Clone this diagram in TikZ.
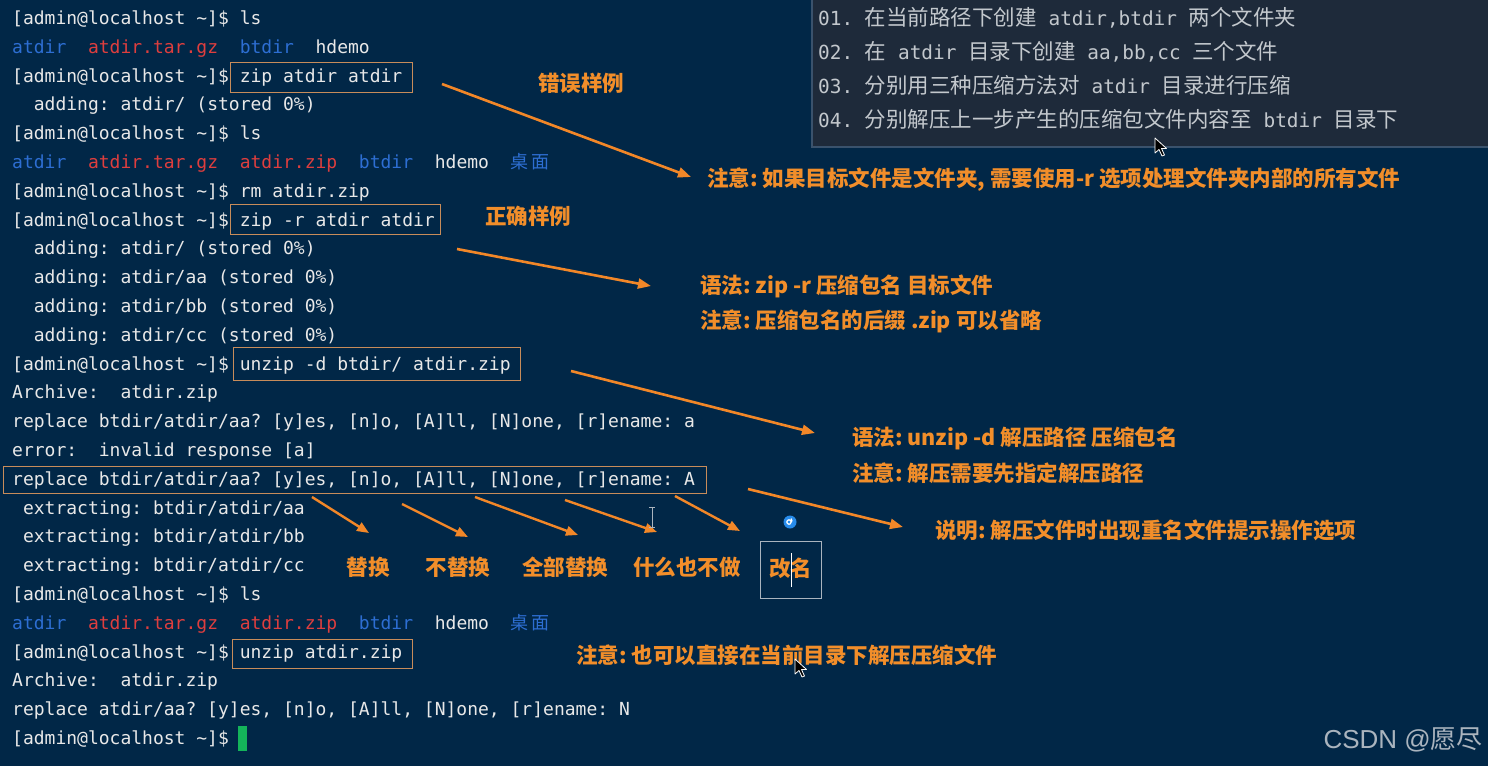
\documentclass[tikz,border=0pt]{standalone}
\usepackage{fontspec}
\usetikzlibrary{arrows.meta}
\newfontfamily\tmonofam{DejaVu Sans Mono}
\newfontfamily\cjkfam{Noto Sans CJK SC}
\newfontfamily\wmlatin{Liberation Sans}
\definecolor{bg}{RGB}{1,39,71}
\definecolor{termwhite}{RGB}{232,232,232}
\definecolor{tblue}{RGB}{45,110,210}
\definecolor{tred}{RGB}{222,62,62}
\definecolor{noteorange}{RGB}{242,142,42}
\definecolor{arrcol}{RGB}{242,135,40}
\definecolor{boxcol}{RGB}{200,140,90}
\definecolor{panelbg}{RGB}{30,42,58}
\definecolor{panelrim}{RGB}{58,82,108}
\definecolor{paneltext}{RGB}{195,200,205}
\definecolor{cursorgreen}{RGB}{20,180,90}
\definecolor{wmark}{RGB}{170,180,190}
\definecolor{spiral}{RGB}{40,140,235}
\frenchspacing
\newcommand\tfont{\tmonofam\fontsize{18pt}{18pt}\selectfont\frenchspacing}
\newcommand\pmono[1]{{\tmonofam\fontsize{19.4pt}{20pt}\selectfont\frenchspacing #1}}
\newcommand\pcjk[1]{{\cjkfam\fontsize{21.5pt}{22pt}\selectfont #1}}
\newcommand\tcjk[1]{{\cjkfam\fontsize{18pt}{18pt}\selectfont #1}}
\newcommand\prompt{[admin@localhost~\textasciitilde]\$~}
\begin{document}
\begin{tikzpicture}[x=1pt,y=-1pt,
  term/.style={anchor=base west,inner sep=0pt,font=\tfont,text=termwhite},
  paneltxt/.style={anchor=base west,inner sep=0pt,text=paneltext},
  note/.style={anchor=west,inner sep=0pt,font=\cjkfam\bfseries\fontsize{21.5pt}{22pt}\selectfont\frenchspacing,text=noteorange},
  lbl/.style={anchor=center,inner sep=0pt,font=\cjkfam\bfseries\fontsize{21.5pt}{22pt}\selectfont,text=noteorange},
  cmdbox/.style={draw=boxcol,line width=1.3pt,inner sep=0pt,anchor=north west},
  arr/.style={draw=arrcol,line width=2.6pt,-{Triangle[length=13pt,width=10pt]}},
  sarr/.style={draw=arrcol,line width=2.4pt,-{Triangle[length=12pt,width=9.5pt]}},
  pointer/.style={fill=black,draw=white,line width=0.8pt,line join=round}]
\useasboundingbox (0,0) rectangle (1488,766);
\fill[bg] (0,0) rectangle (1488,766);

% ---- top-right panel ----
\node[fill=panelbg,draw=panelrim,line width=1.5pt,anchor=north west,minimum width=680pt,minimum height=148pt,inner sep=0pt] (panel) at (811,-2) {};
\node[paneltxt] (p1) at (818,25.5) {\pmono{01. }\pcjk{在当前路径下创建}\pmono{ atdir,btdir }\pcjk{两个文件夹}};
\node[paneltxt] (p2) at (818,59.5) {\pmono{02. }\pcjk{在}\pmono{ atdir }\pcjk{目录下创建}\pmono{ aa,bb,cc }\pcjk{三个文件}};
\node[paneltxt] (p3) at (818,93.5) {\pmono{03. }\pcjk{分别用三种压缩方法对}\pmono{ atdir }\pcjk{目录进行压缩}};
\node[paneltxt] (p4) at (818,127.5) {\pmono{04. }\pcjk{分别解压上一步产生的压缩包文件内容至}\pmono{ btdir }\pcjk{目录下}};

% ---- terminal lines ----
\node[term] (l1)  at (12,24.5)  {\prompt ls};
\node[term] (l2)  at (12,53.3)  {\textcolor{tblue}{atdir}~~\textcolor{tred}{atdir.tar.gz}~~\textcolor{tblue}{btdir}~~hdemo};
\node[term] (l3)  at (12,82.1)  {\prompt zip atdir atdir};
\node[term] (l4)  at (12,110.9) {~~adding: atdir/ (stored 0\%)};
\node[term] (l5)  at (12,139.7) {\prompt ls};
\node[term] (l6)  at (12,168.5) {\textcolor{tblue}{atdir}~~\textcolor{tred}{atdir.tar.gz}~~\textcolor{tred}{atdir.zip}~~\textcolor{tblue}{btdir}~~hdemo~~\textcolor{tblue}{\tcjk{桌\hspace{3pt}面}}};
\node[term] (l7)  at (12,197.3) {\prompt rm atdir.zip};
\node[term] (l8)  at (12,226.1) {\prompt zip -r atdir atdir};
\node[term] (l9)  at (12,254.9) {~~adding: atdir/ (stored 0\%)};
\node[term] (l10) at (12,283.7) {~~adding: atdir/aa (stored 0\%)};
\node[term] (l11) at (12,312.5) {~~adding: atdir/bb (stored 0\%)};
\node[term] (l12) at (12,341.3) {~~adding: atdir/cc (stored 0\%)};
\node[term] (l13) at (12,370.1) {\prompt unzip -d btdir/ atdir.zip};
\node[term] (l14) at (12,398.9) {Archive:~~atdir.zip};
\node[term] (l15) at (12,427.7) {replace btdir/atdir/aa? [y]es, [n]o, [A]ll, [N]one, [r]ename: a};
\node[term] (l16) at (12,456.5) {error:~~invalid response [a]};
\node[term] (l17) at (12,485.3) {replace btdir/atdir/aa? [y]es, [n]o, [A]ll, [N]one, [r]ename: A};
\node[term] (l18) at (12,514.1) {~extracting: btdir/atdir/aa};
\node[term] (l19) at (12,542.9) {~extracting: btdir/atdir/bb};
\node[term] (l20) at (12,571.7) {~extracting: btdir/atdir/cc};
\node[term] (l21) at (12,600.5) {\prompt ls};
\node[term] (l22) at (12,629.3) {\textcolor{tblue}{atdir}~~\textcolor{tred}{atdir.tar.gz}~~\textcolor{tred}{atdir.zip}~~\textcolor{tblue}{btdir}~~hdemo~~\textcolor{tblue}{\tcjk{桌\hspace{3pt}面}}};
\node[term] (l23) at (12,658.1) {\prompt unzip atdir.zip};
\node[term] (l24) at (12,686.9) {Archive:~~atdir.zip};
\node[term] (l25) at (12,715.7) {replace atdir/aa? [y]es, [n]o, [A]ll, [N]one, [r]ename: N};
\node[term] (l26) at (12,744.5) {\prompt};
\fill[cursorgreen] (238,726) rectangle (247,751);

% ---- command boxes ----
\node[cmdbox,minimum width=182pt,minimum height=30pt] (b1) at (230,62) {};
\node[cmdbox,minimum width=210pt,minimum height=30pt] (b2) at (230,204) {};
\node[cmdbox,minimum width=287pt,minimum height=33pt] (b3) at (233,347) {};
\node[cmdbox,minimum width=703pt,minimum height=27pt] (b4) at (3,466) {};
\node[cmdbox,minimum width=180pt,minimum height=29pt] (b5) at (232,639) {};

% ---- annotations ----
\node[lbl] (n0) at (581,83) {错误样例};
\node[lbl] (n00) at (528,216) {正确样例};
\node[note] (n1) at (707,180) {注意: 如果目标文件是文件夹, 需要使用-r 选项处理文件夹内部的所有文件};
\node[note] (n2) at (700,286) {语法: zip -r 压缩包名 目标文件};
\node[note] (n3) at (700,321) {注意: 压缩包名的后缀 .zip 可以省略};
\node[note] (n4) at (852,438) {语法: unzip -d 解压路径 压缩包名};
\node[note] (n5) at (852,473) {注意: 解压需要先指定解压路径};
\node[note] (n6) at (935,530) {说明: 解压文件时出现重名文件提示操作选项};
\node[note] (n7) at (576,655) {注意: 也可以直接在当前目录下解压压缩文件};

\node[lbl] (o1) at (368,567) {替换};
\node[lbl] (o2) at (458,567) {不替换};
\node[lbl] (o3) at (565,567) {全部替换};
\node[lbl] (o4) at (687,567) {什么也不做};
\node[draw=wmark,line width=1pt,minimum width=61pt,minimum height=57pt,inner sep=0pt] (o5box) at (790.5,569.5) {};
\node[lbl] (o5) at (790.5,568) {改名};
\draw[white,line width=1pt] (791,553) -- (791,587);

% ---- main arrows ----
\coordinate (t1) at (442,84);  \coordinate (h1) at (691,177);
\coordinate (t2) at (457,249); \coordinate (h2) at (651,286);
\coordinate (t3) at (571,371); \coordinate (h3) at (815,433);
\coordinate (t4) at (748,489); \coordinate (h4) at (903,527);
\draw[arr] (t1) -- (h1);
\draw[arr] (t2) -- (h2);
\draw[arr] (t3) -- (h3);
\draw[arr] (t4) -- (h4);

% ---- option arrows ----
\coordinate (s1) at (312,497); \coordinate (e1) at (369,533);
\coordinate (s2) at (402,504); \coordinate (e2) at (468,537);
\coordinate (s3) at (475,497); \coordinate (e3) at (578,535);
\coordinate (s4) at (565,500); \coordinate (e4) at (657,532);
\coordinate (s5) at (675,496); \coordinate (e5) at (740,531);
\draw[sarr] (s1) -- (e1);
\draw[sarr] (s2) -- (e2);
\draw[sarr] (s3) -- (e3);
\draw[sarr] (s4) -- (e4);
\draw[sarr] (s5) -- (e5);

% ---- screen artefacts ----
\fill[spiral] (790,522) circle (6.5pt);
\draw[white,line width=1.2pt] (790,522) ++(0:1.2pt) arc (0:300:2.2pt) arc (300:400:3.6pt);
\draw[wmark,line width=1pt] (652,507) -- (652,527) (649,507) -- (655,507) (649,527) -- (655,527);
\draw[pointer] (1155,138) -- (1155,153) -- (1159,149.5) -- (1162,156) -- (1164.5,155) -- (1161.5,148.5) -- (1166.5,148.5) -- cycle;
\draw[pointer] (795,659) -- (795,674) -- (799,670.5) -- (802,677) -- (804.5,676) -- (801.5,669.5) -- (806.5,669.5) -- cycle;

% ---- watermark ----
\node[anchor=east,inner sep=0pt,text=wmark,font=\fontsize{26pt}{26pt}\selectfont] (wm) at (1483,740) {{\wmlatin CSDN @}{\cjkfam 愿尽}};
\end{tikzpicture}
\end{document}
